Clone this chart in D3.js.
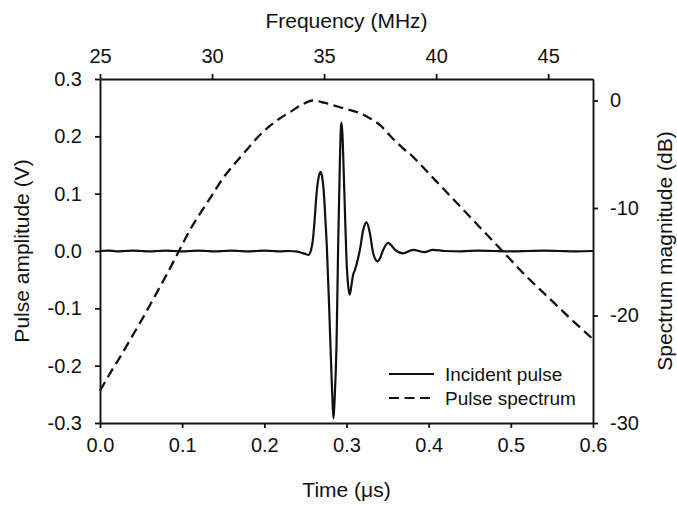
<!DOCTYPE html>
<html>
<head>
<meta charset="utf-8">
<script src="https://cdn.jsdelivr.net/npm/d3@7"></script>
<style>
  html, body { margin: 0; padding: 0; background: #fff; }
  svg { display: block; }
  text { font-family: "Liberation Sans", Arial, Helvetica, sans-serif; fill: #111; }
</style>
</head>
<body>
<svg id="chart" width="677" height="505"></svg>
<script>
// Incident pulse: time (µs) and amplitude (V)
const pulseTime = [
  0.000, 0.010, 0.020, 0.030, 0.040, 0.050, 0.060, 0.070, 0.080, 0.090,
  0.100, 0.110, 0.120, 0.130, 0.140, 0.150, 0.160, 0.170, 0.180, 0.190,
  0.200, 0.210, 0.220, 0.230, 0.240, 0.245, 0.250, 0.2535, 0.2565, 0.2595,
  0.2615, 0.2636, 0.2660, 0.2685, 0.2705, 0.2725, 0.2745, 0.2760, 0.2790, 0.2818,
  0.2832, 0.2842, 0.2855, 0.2879, 0.2899, 0.2920, 0.2932, 0.2940, 0.2950, 0.2968,
  0.2985, 0.3000, 0.3020, 0.3040, 0.3060, 0.3080, 0.3100, 0.3125, 0.3163, 0.3204,
  0.3244, 0.3285, 0.3325, 0.3378, 0.3410, 0.3447, 0.3508, 0.3550, 0.3590, 0.3690,
  0.3810, 0.3950, 0.4050, 0.420, 0.440, 0.460, 0.480, 0.500, 0.520, 0.540,
  0.560, 0.580, 0.600
];
const pulseVolts = [
  0.000, 0.0007, -0.0005, 0.000, 0.0007, 0.000, -0.0005, 0.000, 0.0007, 0.000,
  -0.0005, 0.000, 0.0007, 0.000, -0.0005, 0.000, 0.0007, 0.000, -0.0005, 0.000,
  0.0007, 0.000, -0.0005, 0.000, -0.001, -0.003, -0.005, -0.007, 0.000, 0.025,
  0.060, 0.101, 0.128, 0.138, 0.128, 0.100, 0.050, 0.010, -0.103, -0.219,
  -0.270, -0.292, -0.260, -0.161, 0.014, 0.159, 0.215, 0.224, 0.205, 0.130,
  0.050, -0.015, -0.060, -0.076, -0.060, -0.042, -0.034, -0.022, 0.002, 0.037,
  0.050, 0.031, -0.004, -0.018, -0.012, 0.002, 0.014, 0.009, 0.002, -0.004,
  0.002, -0.002, 0.002, 0.000, -0.0005, 0.0007, 0.000, -0.0005, 0.000, 0.0007,
  0.000, -0.0005, 0.000
];

// Pulse spectrum: frequency (MHz) and magnitude (dB)
const specFreq = [
  25, 25.5, 26, 26.5, 27, 27.5, 28, 28.5, 29, 29.5,
  30, 30.5, 31, 31.5, 32, 32.5, 33, 33.5, 34, 34.5,
  35, 35.5, 36, 36.5, 37, 37.5, 38, 38.5, 39, 39.5,
  40, 41, 42, 43, 44, 45, 46, 47
];
const specDb = [
  -27.0, -25.2, -23.5, -21.7, -19.9, -18.0, -16.1, -14.1, -12.1, -10.4,
  -8.8, -7.2, -5.9, -4.7, -3.5, -2.5, -1.7, -1.05, -0.4, 0.0,
  -0.2, -0.5, -0.8, -1.1, -1.6, -2.3, -3.4, -4.4, -5.3, -6.4,
  -7.5, -9.7, -11.9, -14.1, -16.3, -18.3, -20.3, -22.2
];

// Axis ticks
const timeTicks = [0, 0.1, 0.2, 0.3, 0.4, 0.5, 0.6];
const voltTicks = [-0.3, -0.2, -0.1, 0, 0.1, 0.2, 0.3];
const freqTicks = [25, 30, 35, 40, 45];
const dbTicks = [0, -10, -20, -30];

const legendLabels = ["Incident pulse", "Pulse spectrum"];

const svg = d3.select("#chart");
const plotLeft = 100, plotRight = 593, plotTop = 79, plotBottom = 423;

const x = d3.scaleLinear().domain([0, 0.6]).range([plotLeft, plotRight]);
const xTop = d3.scaleLinear().domain([25, 47]).range([plotLeft, plotRight]);
const yL = d3.scaleLinear().domain([-0.3, 0.3]).range([plotBottom, plotTop]);
const yR = d3.scaleLinear().domain([-30, 2]).range([plotBottom, plotTop]);

const hyphen = f => v => f(v).replace("\u2212", "-");
const fmt1 = hyphen(d3.format(".1f"));
const fmt0 = hyphen(d3.format("d"));

function styleAxis(g, size) {
  g.selectAll(".domain").attr("stroke", "#111").attr("stroke-width", 1.9);
  g.selectAll(".tick line").attr("stroke", "#111").attr("stroke-width", 1.8);
  g.selectAll(".tick text")
    .attr("font-family", "'Liberation Sans', Arial, Helvetica, sans-serif")
    .attr("font-size", size).attr("fill", "#111");
  g.attr("font-family", null).attr("font-size", null);
}

svg.append("g").attr("transform", `translate(0,${plotBottom})`)
  .call(d3.axisBottom(x).tickValues(timeTicks).tickFormat(fmt1).tickSize(5).tickSizeOuter(0).tickPadding(10))
  .call(g => styleAxis(g, 20));

svg.append("g").attr("transform", `translate(0,${plotTop})`)
  .call(d3.axisTop(xTop).tickValues(freqTicks).tickFormat(fmt0).tickSize(5).tickSizeOuter(0).tickPadding(11))
  .call(g => styleAxis(g, 20));

svg.append("g").attr("transform", `translate(${plotLeft},0)`)
  .call(d3.axisLeft(yL).tickValues(voltTicks).tickFormat(fmt1).tickSize(5).tickSizeOuter(0).tickPadding(13))
  .call(g => styleAxis(g, 20));

svg.append("g").attr("transform", `translate(${plotRight},0)`)
  .call(d3.axisRight(yR).tickValues(dbTicks).tickFormat(fmt0).tickSize(5).tickSizeOuter(0).tickPadding(12))
  .call(g => styleAxis(g, 20));

// Axis titles
svg.append("text").attr("x", (plotLeft + plotRight) / 2).attr("y", 497)
  .attr("text-anchor", "middle").attr("font-size", 21).text("Time (\u03bcs)");
svg.append("text").attr("x", (plotLeft + plotRight) / 2).attr("y", 28)
  .attr("text-anchor", "middle").attr("font-size", 21).text("Frequency (MHz)");
svg.append("text")
  .attr("transform", `translate(29,${(plotTop + plotBottom) / 2}) rotate(-90)`)
  .attr("text-anchor", "middle").attr("font-size", 21).text("Pulse amplitude (V)");
svg.append("text")
  .attr("transform", `translate(672,${(plotTop + plotBottom) / 2}) rotate(-90)`)
  .attr("text-anchor", "middle").attr("font-size", 21).text("Spectrum magnitude (dB)");

// Spectrum curve (top/right scales)
const specPts = specFreq.map((f, i) => [f, specDb[i]]);
svg.append("path").datum(specPts)
  .attr("fill", "none").attr("stroke", "#111").attr("stroke-width", 2.3)
  .attr("stroke-dasharray", "10,5.5")
  .attr("d", d3.line().x(d => xTop(d[0])).y(d => yR(d[1])).curve(d3.curveMonotoneX));

// Pulse curve (bottom/left scales)
const pulsePts = pulseTime.map((t, i) => [t, pulseVolts[i]]);
svg.append("path").datum(pulsePts)
  .attr("fill", "none").attr("stroke", "#111").attr("stroke-width", 2.2)
  .attr("stroke-linejoin", "round")
  .attr("d", d3.line().x(d => x(d[0])).y(d => yL(d[1])).curve(d3.curveMonotoneX));

// Legend
const legend = svg.append("g");
const legendY = [374, 398];
legendLabels.forEach((label, i) => {
  legend.append("line").attr("x1", 389).attr("x2", 434)
    .attr("y1", legendY[i]).attr("y2", legendY[i])
    .attr("stroke", "#111").attr("stroke-width", 2.2)
    .attr("stroke-dasharray", i === 0 ? null : "10,5.5");
  legend.append("text").attr("x", 445).attr("y", legendY[i] + 7)
    .attr("font-size", 19).text(label);
});
</script>
</body>
</html>
